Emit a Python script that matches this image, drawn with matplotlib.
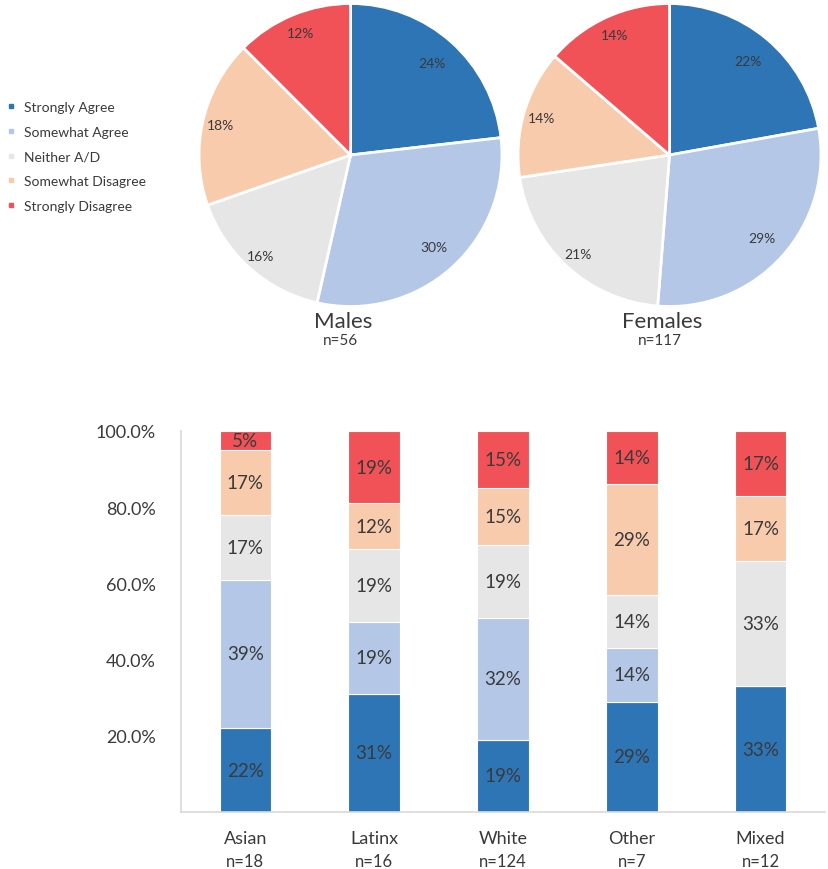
import numpy as np
import matplotlib
matplotlib.use("Agg")
from matplotlib import pyplot as plt
from matplotlib.ticker import PercentFormatter
from matplotlib.lines import Line2D

plt.rcParams['font.family'] = ['Lato', 'DejaVu Sans']

# response categories (bottom -> top in bars, clockwise in pies)
responses = ['Strongly Agree', 'Somewhat Agree', 'Neither A/D',
             'Somewhat Disagree', 'Strongly Disagree']
colors = ['#2E75B6', '#B4C7E7', '#E7E6E6', '#F8CBAD', '#F15257']

# pies: wedge shares (%) and printed labels
males_share = [23.2, 30.4, 16.1, 17.9, 12.5]
males_labels = ['24%', '30%', '16%', '18%', '12%']
males_n = 56
females_share = [22.2, 29.1, 21.4, 13.7, 13.7]
females_labels = ['22%', '29%', '21%', '14%', '14%']
females_n = 117

# stacked bars by ethnicity (percent)
groups = ['Asian', 'Latinx', 'White', 'Other', 'Mixed']
group_n = [18, 16, 124, 7, 12]
strongly_agree = [22, 31, 19, 29, 33]
somewhat_agree = [39, 19, 32, 14, 0]
neither = [17, 19, 19, 14, 33]
somewhat_disagree = [17, 12, 15, 29, 17]
strongly_disagree = [5, 19, 15, 14, 17]

txt = '#3a3a3a'
W, H = 829, 870
fig = plt.figure(figsize=(W / 100, H / 100), dpi=100)

def px(x0, y0, w, h):
    # pixel box (left, top, width, height) -> figure fractions
    return [x0 / W, 1 - (y0 + h) / H, w / W, h / H]

# pies
label_r = [0.81, 0.82, 0.89, 0.88, 0.87]
for cx, share, labels, name, n in [(350.5, males_share, males_labels, 'Males', males_n),
                                   (669.5, females_share, females_labels, 'Females', females_n)]:
    ax = fig.add_axes(px(cx - 153, 3, 306, 306))
    wedges, _ = ax.pie(share, colors=colors, startangle=90, counterclock=False,
                       wedgeprops=dict(edgecolor='white', linewidth=2))
    for w, lab, r in zip(wedges, labels, label_r):
        ang = np.deg2rad((w.theta1 + w.theta2) / 2)
        ax.text(r * np.cos(ang), r * np.sin(ang), lab, ha='center', va='center',
                fontsize=10, color=txt)
    ax.set_xlim(-1.01, 1.01)
    ax.set_ylim(-1.01, 1.01)
    fig.text((cx - 7) / W, 1 - 322 / H, name, ha='center', va='center', fontsize=16, color=txt)
    fig.text((cx - 10) / W, 1 - 341 / H, 'n=%d' % n, ha='center', va='center', fontsize=11, color=txt)

# legend
handles = [Line2D([], [], marker='s', linestyle='', markersize=3.5, color=c) for c in colors]
fig.legend(handles, responses, loc='upper left', bbox_to_anchor=(0.0, 1 - 95 / H),
           frameon=False, fontsize=10, handlelength=0.6, handletextpad=0.6,
           labelspacing=0.92, borderpad=0, labelcolor=txt)

# stacked bars
ax = fig.add_axes(px(181, 432, 644, 381))
x = np.arange(len(groups))
bottom = np.zeros(len(groups))
for vals, c in zip([strongly_agree, somewhat_agree, neither, somewhat_disagree, strongly_disagree], colors):
    vals = np.array(vals, dtype=float)
    ax.bar(x, vals, 0.4, bottom=bottom, color=c, edgecolor='white', linewidth=0.8)
    for xi, b, v in zip(x, bottom, vals):
        if v > 0:
            ax.text(xi, b + v / 2, '%d%%' % v, ha='center', va='center',
                    fontsize=13.5, color=txt)
    bottom += vals

ax.set_xlim(-0.5, len(groups) - 0.5)
ax.set_ylim(0, 100)
ax.set_yticks([20, 40, 60, 80, 100])
ax.yaxis.set_major_formatter(PercentFormatter(xmax=100, decimals=1))
ax.set_xticks(x)
ax.set_xticklabels(groups)
for xi, n in zip(x, group_n):
    ax.text(xi, -0.128, 'n=%d' % n, transform=ax.get_xaxis_transform(),
            ha='center', va='center', fontsize=12, color=txt)
ax.tick_params(axis='both', length=0, labelsize=13, labelcolor=txt)
ax.tick_params(axis='y', pad=18)
ax.tick_params(axis='x', pad=13)
for s in ['top', 'right']:
    ax.spines[s].set_visible(False)
for s in ['left', 'bottom']:
    ax.spines[s].set_color('#D9D9D9')
    ax.spines[s].set_linewidth(1.2)

fig.savefig('out.png', dpi=100)
